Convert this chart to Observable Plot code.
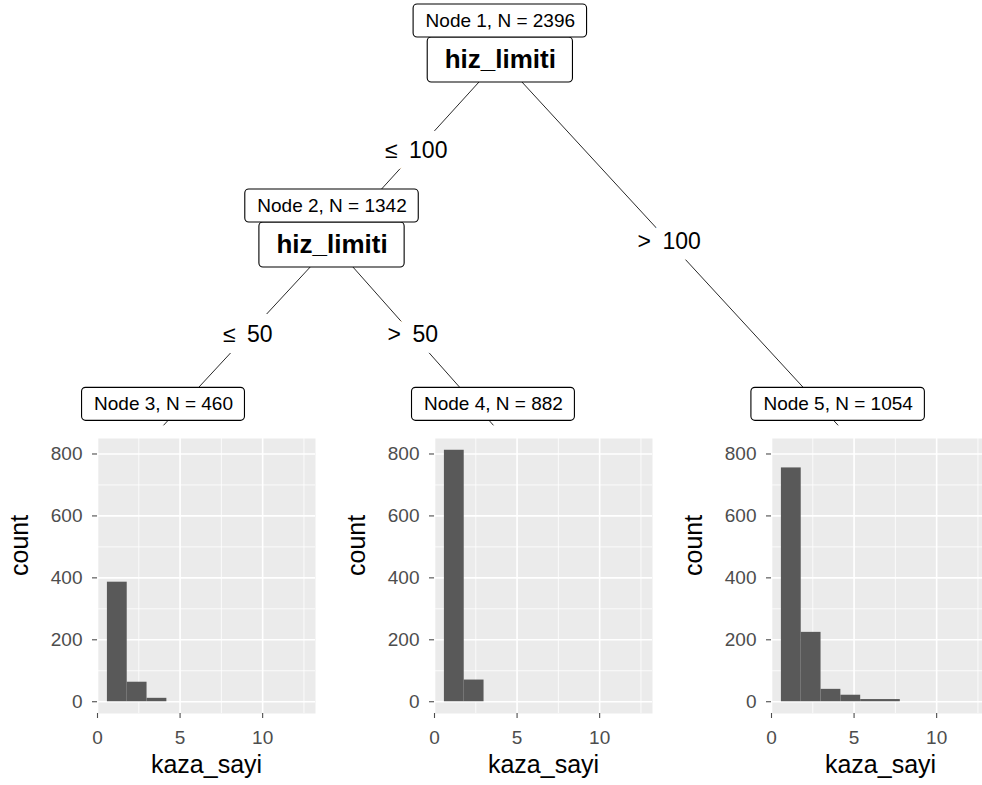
<!DOCTYPE html>
<html>
<head>
<meta charset="utf-8">
<script src="https://cdn.jsdelivr.net/npm/d3@7"></script>
<script src="https://cdn.jsdelivr.net/npm/@observablehq/plot@0.6"></script>
<style>
  html, body { margin: 0; padding: 0; background: white; }
  #root { position: relative; width: 982px; height: 785px; overflow: hidden; background: white; }
  #root > div, #root > svg { position: absolute; }
</style>
</head>
<body>
<div id="root"></div>
<script>
// ---------- data ----------
const nodeId    = [1, 2, 3, 4, 5];
const nodeN     = [2396, 1342, 460, 882, 1054];
const nodeSplit = ["hiz_limiti", "hiz_limiti", "", "", ""];
// tree layout (ggparty-like units, x 0..1 left->right, y 0..1 bottom->top)
const nodeX     = [0.509, 0.3376, 0.166, 0.502, 0.853];
const nodeY     = [0.865, 0.435, 0.012, 0.012, 0.012];

const edgeFrom  = [1, 1, 2, 2];
const edgeTo    = [2, 5, 3, 4];
const edgeLabel = ["\u2264\u2002100", ">\u2002100", "\u2264\u200250", ">\u200250"];

const binStart  = [0.6, 1.8, 3.0, 4.2, 5.4, 6.6];
const binWidth  = 1.2;
const counts3   = [386, 63, 11];
const counts4   = [812, 70];
const counts5   = [755, 224, 40, 21, 7, 7];

const xTicks      = [0, 5, 10];
const xMinorTicks = [2.5, 7.5, 12.5];
const yTicks      = [0, 200, 400, 600, 800];
const yMinorTicks = [100, 300, 500, 700];

// ---------- helpers ----------
const F = "'Liberation Sans', Arial, Helvetica, sans-serif";
const ctx = document.createElement("canvas").getContext("2d");
function measure(str, font) { ctx.font = font; return ctx.measureText(str).width; }

const root = document.getElementById("root");

// ---------- tree ----------
const TW = 982, TH = 430;
const yPx = y => TH - y * TH;
const py2y = p => (TH - p) / TH;

const nodes = nodeId.map((id, i) => ({
  id, n: nodeN[i], split: nodeSplit[i], x: nodeX[i], y: nodeY[i], inner: nodeSplit[i] !== ""
}));
const byId = new Map(nodes.map(d => [d.id, d]));
const edges = edgeFrom.map((f, i) => {
  const a = byId.get(f), b = byId.get(edgeTo[i]);
  return {x1: a.x, y1: a.y, x2: b.x, y2: b.y, label: edgeLabel[i]};
});

const labelBoxes = [], splitBoxes = [];
nodes.forEach(d => {
  const text = `Node ${d.id}, N = ${d.n}`;
  const cy = yPx(d.y) + (d.inner ? -37.5 : -21);
  const w = measure(text, `19px ${F}`) + 24;
  labelBoxes.push({text, cx: d.x, cy: py2y(cy),
    x1: d.x - w / 2 / TW, x2: d.x + w / 2 / TW, y1: py2y(cy + 16.5), y2: py2y(cy - 16.5)});
  if (d.inner) {
    const cy2 = yPx(d.y) + 1.5;
    const w2 = measure(d.split, `bold 26px ${F}`) + 34;
    splitBoxes.push({text: d.split, cx: d.x, cy: py2y(cy2),
      x1: d.x - w2 / 2 / TW, x2: d.x + w2 / 2 / TW, y1: py2y(cy2 + 22.5), y2: py2y(cy2 - 22.5)});
  }
});

const tree = Plot.plot({
  width: TW, height: TH, margin: 0,
  x: {domain: [0, 1], axis: null},
  y: {domain: [0, 1], axis: null},
  style: {fontFamily: F, background: "white", overflow: "visible"},
  marks: [
    Plot.link(edges, {x1: "x1", y1: "y1", x2: "x2", y2: "y2", stroke: "#111", strokeWidth: 0.9}),
    Plot.text(edges, {x: d => (d.x1 + d.x2) / 2, y: d => (d.y1 + d.y2) / 2, text: "label",
      fontSize: 23, fill: "black", stroke: "white", strokeWidth: 22}),
    Plot.rect(splitBoxes, {x1: "x1", x2: "x2", y1: "y1", y2: "y2", fill: "white", stroke: "black", strokeWidth: 1.1, rx: 4, inset: 0}),
    Plot.rect(labelBoxes, {x1: "x1", x2: "x2", y1: "y1", y2: "y2", fill: "white", stroke: "black", strokeWidth: 1.1, rx: 4, inset: 0}),
    Plot.text(splitBoxes, {x: "cx", y: "cy", text: "text", fontSize: 26, fontWeight: "bold", fill: "black"}),
    Plot.text(labelBoxes, {x: "cx", y: "cy", text: "text", fontSize: 19, fill: "black"})
  ]
});
tree.style.left = "0px"; tree.style.top = "0px";
root.appendChild(tree);

// ---------- histograms ----------
function hist(counts, left) {
  const bins = counts.map((c, i) => ({x1: binStart[i], x2: binStart[i] + binWidth, c}));
  const p = Plot.plot({
    width: 337, height: 355,
    marginLeft: 97, marginRight: 22, marginTop: 8, marginBottom: 72,
    x: {domain: [0, 13.2]},
    y: {domain: [-38, 850]},
    style: {fontFamily: F, background: "transparent", overflow: "visible"},
    marks: [
      Plot.frame({fill: "#ebebeb", stroke: null}),
      Plot.ruleX(xMinorTicks, {stroke: "white", strokeWidth: 0.8}),
      Plot.ruleY(yMinorTicks, {stroke: "white", strokeWidth: 0.8}),
      Plot.ruleX(xTicks, {stroke: "white", strokeWidth: 1.6}),
      Plot.ruleY(yTicks, {stroke: "white", strokeWidth: 1.6}),
      Plot.rectY(bins, {x1: "x1", x2: "x2", y: "c", fill: "#595959", inset: 0}),
      Plot.axisX({ticks: xTicks, tickSize: 5, tickPadding: 12, fontSize: 19, color: "#4d4d4d", label: null, strokeWidth: 1.1}),
      Plot.axisY({ticks: yTicks, tickSize: 5, tickPadding: 10, fontSize: 19, color: "#4d4d4d", label: null, strokeWidth: 1.1}),
      Plot.text(["count"], {frameAnchor: "left", dx: -78, rotate: -90, fontSize: 25, fill: "black"}),
      Plot.text(["kaza_sayi"], {frameAnchor: "bottom", dy: 59, fontSize: 25, fill: "black"})
    ]
  });
  p.style.left = left + "px"; p.style.top = "430px";
  root.appendChild(p);
}
hist(counts3, 0);
hist(counts4, 337);
hist(counts5, 674);
</script>
</body>
</html>
